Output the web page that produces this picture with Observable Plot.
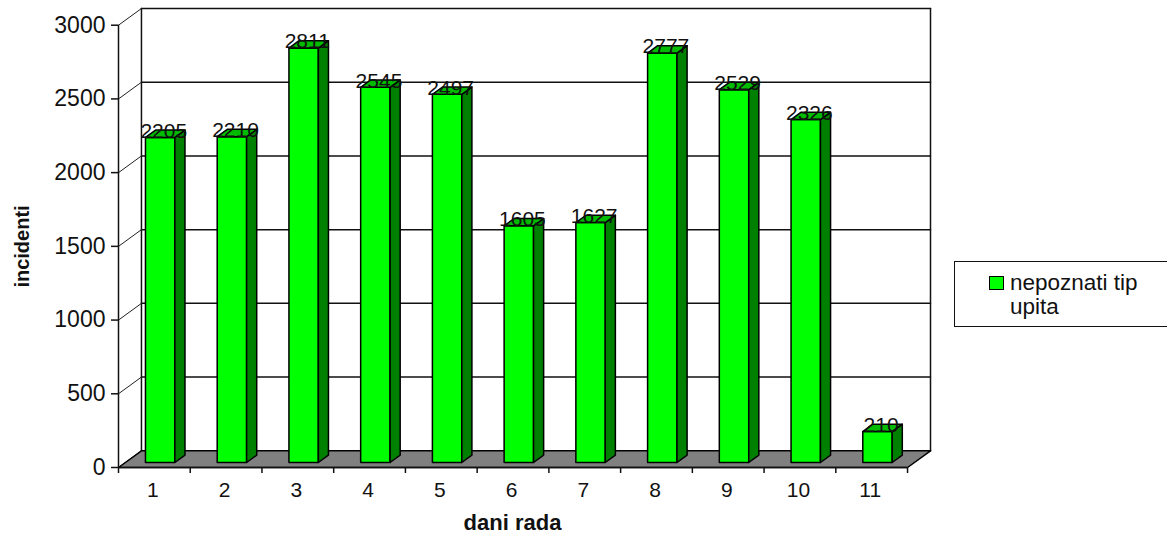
<!DOCTYPE html>
<html>
<head>
<meta charset="utf-8">
<script src="https://cdn.jsdelivr.net/npm/d3@7"></script>
<script src="https://cdn.jsdelivr.net/npm/@observablehq/plot@0.6"></script>
<style>
  html, body { margin: 0; padding: 0; background: #fff; overflow: hidden; }
  #chart { position: relative; width: 1167px; height: 534px; overflow: hidden; }
  #chart svg { display: block; position: absolute; left: 0; top: 0; }
  .legend { position: absolute; left: 954px; top: 261px; width: 240px; height: 66px;
    border: 1.4px solid #111; box-sizing: border-box; background: #fff;
    font: 22.5px/24px "Liberation Sans", Arial, sans-serif; color: #111; }
  .legend i { position: absolute; left: 34px; top: 14px; width: 15px; height: 14px;
    border: 1.5px solid #000; box-sizing: border-box; }
  .legend span { position: absolute; left: 55px; top: 9px; width: 170px; }
</style>
</head>
<body>
<div id="chart"></div>
<script>
// Incidents per working day
const days = ["1", "2", "3", "4", "5", "6", "7", "8", "9", "10", "11"];
const incidents = [2205, 2210, 2811, 2545, 2497, 1605, 1627, 2777, 2529, 2326, 210];
const yTicks = [0, 500, 1000, 1500, 2000, 2500, 3000];
const seriesName = "nepoznati tip upita";

const FONT = '"Liberation Sans", Arial, sans-serif';
const INK = "#111";
const LINE = 1.5;
const FRONT = "#00ff00", SIDE = "#008000", TOP = "#00bb00", FLOOR = "#808080";

// Oblique projection: depth 1 is the back wall of the box.
const SHIFT_X = 0.32;   // day units per unit of depth
const SHIFT_Y = 113.3;  // incidents per unit of depth
const proj = (x, v, d) => ({x: x + d * SHIFT_X, y: v + d * SHIFT_Y});

// Position of a bar inside its day slot, and along the depth of the box.
const BAR_X0 = 0.28, BAR_X1 = 0.69, BAR_D0 = 0.3, BAR_D1 = 0.74;

const polygon = (id, corners) => corners.map(([x, v, d]) => ({id, ...proj(x, v, d)}));

const fronts = [], sides = [], tops = [];
incidents.forEach((v, i) => {
  const a = i + BAR_X0, b = i + BAR_X1;
  fronts.push(...polygon(i, [[a, 0, BAR_D0], [b, 0, BAR_D0], [b, v, BAR_D0], [a, v, BAR_D0]]));
  sides.push(...polygon(i, [[b, 0, BAR_D0], [b, 0, BAR_D1], [b, v, BAR_D1], [b, v, BAR_D0]]));
  tops.push(...polygon(i, [[a, v, BAR_D0], [b, v, BAR_D0], [b, v, BAR_D1], [a, v, BAR_D1]]));
});

const n = days.length;
const floor = polygon("floor", [[0, 0, 0], [n, 0, 0], [n, 0, 1], [0, 0, 1]]);
const wallTop = yTicks[yTicks.length - 1];

// Wall outline and gridlines on the back wall
const wallLines = [
  ...yTicks.flatMap(v => polygon("grid" + v, [[0, v, 1], [n, v, 1]])),
  ...polygon("left", [[0, 0, 1], [0, wallTop, 1]]),
  ...polygon("right", [[n, 0, 1], [n, wallTop, 1]])
];
// Connectors from the front axis to the back wall
const connectors = yTicks.flatMap(v => polygon("c" + v, [[0, v, 0], [0, v, 1]]));

const face = (data, fill) => Plot.line(data, {
  x: "x", y: "y", z: "id", fill, stroke: "#000", strokeWidth: LINE,
  curve: "linear-closed", strokeLinejoin: "round"
});

const xMax = n + SHIFT_X;
const yMax = wallTop + SHIFT_Y;

const plot = Plot.plot({
  width: 1167,
  height: 534,
  marginLeft: 118,
  marginRight: 237,
  marginTop: 8,
  marginBottom: 67,
  style: {fontFamily: FONT, background: "transparent", color: INK},
  x: {domain: [0, xMax]},
  y: {domain: [0, yMax]},
  marks: [
    Plot.line(wallLines, {x: "x", y: "y", z: "id", stroke: "#111", strokeWidth: LINE}),
    Plot.line(connectors, {x: "x", y: "y", z: "id", stroke: "#222", strokeWidth: 1}),
    face(floor, FLOOR),
    // front axis lines
    Plot.ruleX([0], {y1: 0, y2: wallTop, stroke: "#111", strokeWidth: LINE}),
    Plot.ruleY([0], {x1: 0, x2: n, stroke: "#111", strokeWidth: LINE}),
    Plot.axisY({
      ticks: yTicks, tickSize: 7, tickPadding: 6, fontSize: 23, label: null,
      tickFormat: d => String(d), stroke: "#111", strokeWidth: LINE, color: INK
    }),
    Plot.axisX({
      ticks: d3.range(0, n + 1), tickSize: 6, tickFormat: () => "", label: null,
      stroke: "#111", strokeWidth: LINE
    }),
    Plot.text(days, {
      x: (d, i) => i + 0.48, y: 0, dy: 23, fontSize: 21, fill: INK, text: d => d
    }),
    face(fronts, FRONT),
    face(sides, SIDE),
    face(tops, TOP),
    Plot.text(incidents, {
      x: (v, i) => proj(i + (BAR_X0 + BAR_X1) / 2, v, 0.5).x,
      y: v => proj(0, v, BAR_D1).y,
      dx: -1, dy: 1,
      text: v => String(v), fontSize: 21, fill: INK, lineAnchor: "middle"
    }),
    Plot.text(["incidenti"], {
      frameAnchor: "left", textAnchor: "middle", dx: -96, dy: 8.5, rotate: -90,
      fontWeight: "bold", fontSize: 20, fill: INK
    }),
    Plot.text(["dani rada"], {
      frameAnchor: "bottom", lineAnchor: "middle", dx: -12, dy: 55,
      fontWeight: "bold", fontSize: 22, fill: INK
    })
  ]
});

const chart = document.getElementById("chart");
chart.append(plot);

// Series key, to the right of the plot
const legend = document.createElement("div");
legend.className = "legend";
const swatch = document.createElement("i");
swatch.style.background = FRONT;
const label = document.createElement("span");
label.textContent = seriesName;
legend.append(swatch, label);
chart.append(legend);
</script>
</body>
</html>
